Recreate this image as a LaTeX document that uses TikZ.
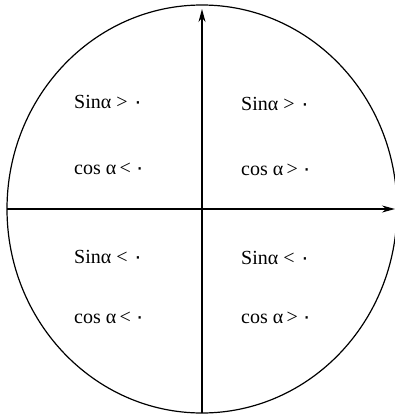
\documentclass[tikz,border=0pt]{standalone}
\usepackage{fontspec}
\setmainfont{Liberation Serif}
\newfontfamily\persianfont[Script=Arabic]{DejaVu Sans}
\usetikzlibrary{arrows.meta}
\newcommand{\pzero}{{\persianfont ۰}}

\begin{document}
\begin{tikzpicture}[
  x=1pt, y=-1pt,
  font=\fontsize{20}{24}\selectfont,
  ax/.style={line width=1.3pt, -{Stealth[length=13pt, width=7pt]}},
  lbl/.style={anchor=west, inner sep=0pt}
]
\useasboundingbox (0,0) rectangle (395,417);
\coordinate (o) at (202,209);
\coordinate (vbot) at (202,413);
\coordinate (vtop) at (202,9);
\coordinate (hleft) at (7,209);
\coordinate (hright) at (395,209);

\draw[line width=1.2pt] (o) ellipse [x radius=195, y radius=204];
\draw[ax] (vbot) -- (vtop);
\draw[ax] (hleft) -- (hright);

\node[lbl] (sin1) at (74,102) {Sinα > \pzero};
\node[lbl] (cos1) at (74,169) {cos α\,<\,\pzero};
\node[lbl] (sin2) at (241,104) {Sinα > \pzero};
\node[lbl] (cos2) at (241,170) {cos α\,>\,\pzero};
\node[lbl] (sin3) at (74,257) {Sinα < \pzero};
\node[lbl] (cos3) at (74,318) {cos α\,<\,\pzero};
\node[lbl] (sin4) at (241,258) {Sinα < \pzero};
\node[lbl] (cos4) at (241,318) {cos α\,>\,\pzero};
\end{tikzpicture}
\end{document}
